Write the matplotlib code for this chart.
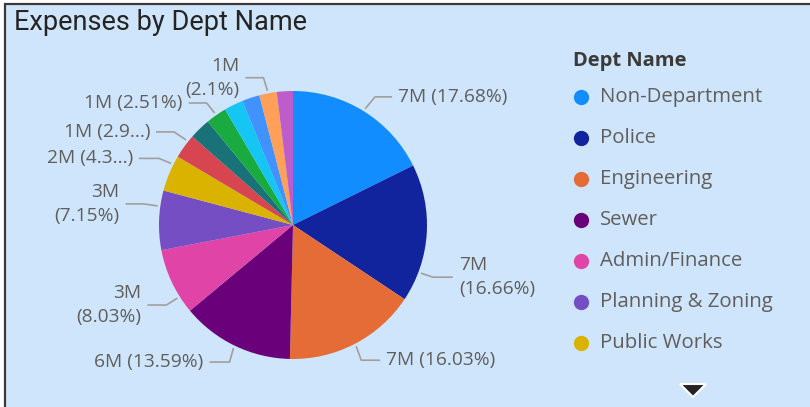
import matplotlib
matplotlib.use("Agg")
import matplotlib.pyplot as plt
from matplotlib.patches import Rectangle, Polygon
from matplotlib.lines import Line2D
import numpy as np

# ---- data -------------------------------------------------------------
departments = [
    "Non-Department", "Police", "Engineering", "Sewer", "Admin/Finance",
    "Planning & Zoning", "Public Works", "Fire", "Parks & Recreation",
    "Water", "Streets", "Library", "Information Technology", "Legal",
]
expenses = [
    7337200, 6913900, 6652450, 5639850, 3332450,
    2967250, 1817700, 1228400, 1058250,
    1041650, 954500, 879800, 871500, 805100,
]
colors = [
    "#118DFF", "#12239E", "#E66C37", "#6B007B", "#E044A7",
    "#744EC2", "#D9B300", "#D64550", "#197278",
    "#1AAB40", "#15C6F4", "#4092FF", "#FFA058", "#BE5DC9",
]
legend_visible = 7

# ---- style / layout ---------------------------------------------------
W, H = 810, 407
BG = "#CFE5FB"
TEXT_GREY = "#605E5C"
LINE_GREY = "#A19F9D"
FONT = ["Open Sans", "DejaVu Sans"]

cx, cy, R = 293, 225, 134          # pie centre and radius in pixels
px = 1.0 / R                       # one pixel in pie data units

# label layout: angular nudge (deg), elbow offset (px, up = +), horizontal run (px),
# two-line label, truncated percentage
label_layout = {
    "Non-Department":   (0,    10,  12,  17, False, False),
    "Police":           (17,   12,  -4,  20, True,  False),
    "Engineering":      (0,     5, -14,  19, False, False),
    "Sewer":            (0,    -4, -14, -20, False, False),
    "Admin/Finance":    (-7,  -11,  -7, -19, True,  False),
    "Planning & Zoning": (6,  -14,   2, -18, True,  False),
    "Public Works":     (4,   -12,   5, -20, False, True),
    "Fire":             (2.5, -12,   8, -18, False, True),
    "Water":            (0,    -8,  10, -18, False, False),
    "Information Technology": (0, -4, 13, -18, True, False),
}

fig = plt.figure(figsize=(W / 100, H / 100), dpi=100)
fig.patch.set_facecolor("white")

# card background with dark top/left border
fig.add_artist(Rectangle((5 / W, -0.05), 1.1, 1 - 4 / H + 0.05,
                         transform=fig.transFigure, facecolor=BG,
                         edgecolor="#3B3A39", linewidth=1.6, zorder=0))

fig.text(14 / W, 1 - 22 / H, "Expenses by Dept Name", fontsize=19.5,
         family=["Roboto", "DejaVu Sans"], color="#252423", va="center", ha="left")

# ---- pie --------------------------------------------------------------
ax = fig.add_axes([(cx - R) / W, (H - cy - R) / H, 2 * R / W, 2 * R / H])
ax.pie(expenses, colors=colors, startangle=90, counterclock=False, radius=1,
       wedgeprops=dict(linewidth=0))
ax.set_xlim(-1, 1)
ax.set_ylim(-1, 1)
ax.set_aspect("equal")
ax.axis("off")

total = float(sum(expenses))
shares = [v / total * 100 for v in expenses]
cum = np.cumsum([0] + shares)


def pct_text(p, clip):
    s = f"{p:.2f}".rstrip("0").rstrip(".")
    if clip:
        s = s[:3] + "..."
    else:
        s = s + "%"
    return f"({s})"


for i, name in enumerate(departments):
    if name not in label_layout:
        continue
    nudge, ex, ey, run, two_line, clip = label_layout[name]
    theta = np.deg2rad((cum[i] + shares[i] / 2) * 3.6 + nudge)
    x0, y0 = 1.02 * np.sin(theta), 1.02 * np.cos(theta)
    x1, y1 = x0 + ex * px, y0 + ey * px
    x2 = x1 + run * px
    ax.plot([x0, x1, x2], [y0, y1, y1], color=LINE_GREY, lw=1.2,
            clip_on=False, solid_capstyle="butt")
    amount = f"{expenses[i] / 1e6:.0f}M"
    txt = amount + ("\n" if two_line else " ") + pct_text(shares[i], clip)
    side = 1 if run > 0 else -1
    ha = "left" if side > 0 else "right"
    ax.text(x2 + side * 6 * px, y1, txt, ha=ha, va="center", multialignment=ha,
            fontsize=13.8, color=TEXT_GREY, family=FONT, clip_on=False,
            linespacing=1.4)

# ---- legend -----------------------------------------------------------
fig.text(573 / W, 1 - 61 / H, "Dept Name", fontsize=14.5, fontweight="bold",
         family=FONT, color="#3B3A39", va="center", ha="left")
for k in range(legend_visible):
    yk = 1 - (97 + 41 * k) / H
    fig.add_artist(Line2D([581 / W], [yk], marker="o", markersize=11,
                          markerfacecolor=colors[k], markeredgewidth=0,
                          linestyle="none", transform=fig.transFigure))
    fig.text(600 / W, yk, departments[k], fontsize=14.7, family=FONT,
             color=TEXT_GREY, va="center", ha="left")

# scroll arrow
fig.add_artist(Polygon([[680 / W, 1 - 384 / H], [706 / W, 1 - 384 / H],
                        [693 / W, 1 - 397 / H]], closed=True,
                       transform=fig.transFigure, facecolor="#252423",
                       edgecolor="white", linewidth=1.5))

fig.savefig("out.png", dpi=100)
